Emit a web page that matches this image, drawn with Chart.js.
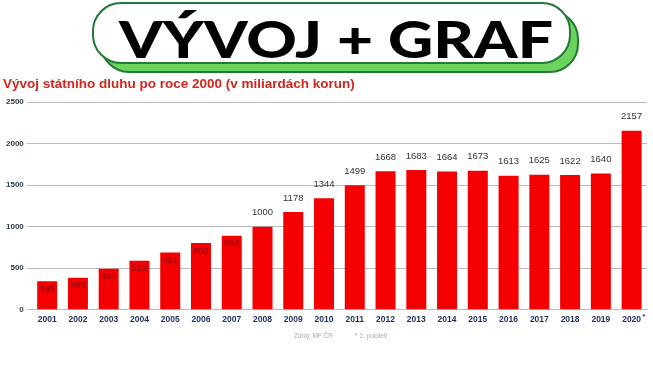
<!DOCTYPE html>
<html>
<head>
<meta charset="utf-8">
<script src="https://cdn.jsdelivr.net/npm/chart.js@4/dist/chart.umd.min.js"></script>
<style>
  html, body { margin: 0; padding: 0; background: #fff; }
  #wrap { width: 653px; height: 367px; }
</style>
</head>
<body>
<div id="wrap"><canvas id="debtChart"></canvas></div>
<script>
/* ==========================
   DATA
========================== */
const years = ["2001","2002","2003","2004","2005","2006","2007","2008","2009","2010",
               "2011","2012","2013","2014","2015","2016","2017","2018","2019","2020"];
const debt = [345, 386, 493, 592, 691, 803, 892, 1000, 1178, 1344,
              1499, 1668, 1683, 1664, 1673, 1613, 1625, 1622, 1640, 2157];
const yTicks = [0, 500, 1000, 1500, 2000, 2500];

const bannerText = "VÝVOJ + GRAF";
const chartTitle = "Vývoj státního dluhu po roce 2000 (v miliardách korun)";
const sourceNote = "Zdroj: MF ČR";
const footNote = "* 1. pololetí";

/* ==========================
   HELPERS
========================== */
function roundRect(ctx, x, y, w, h, r) {
  ctx.beginPath();
  ctx.moveTo(x + r, y);
  ctx.lineTo(x + w - r, y);
  ctx.arc(x + w - r, y + r, r, -Math.PI / 2, 0);
  ctx.lineTo(x + w, y + h - r);
  ctx.arc(x + w - r, y + h - r, r, 0, Math.PI / 2);
  ctx.lineTo(x + r, y + h);
  ctx.arc(x + r, y + h - r, r, Math.PI / 2, Math.PI);
  ctx.lineTo(x, y + r);
  ctx.arc(x + r, y + r, r, Math.PI, Math.PI * 1.5);
  ctx.closePath();
}

/* ==========================
   BANNER + BACKGROUND
========================== */
const bannerPlugin = {
  id: "banner",
  beforeDraw(chart) {
    const ctx = chart.ctx;
    ctx.save();
    ctx.fillStyle = "#fff";
    ctx.fillRect(0, 0, chart.width, chart.height);

    // green shadow box
    roundRect(ctx, 101, 11, 477, 61, 28);
    ctx.fillStyle = "#6cd35c";
    ctx.fill();
    ctx.lineWidth = 2;
    ctx.strokeStyle = "#237a36";
    ctx.stroke();

    // front box
    roundRect(ctx, 93, 3, 477, 60, 28);
    ctx.fillStyle = "#fff";
    ctx.fill();
    ctx.strokeStyle = "#237a36";
    ctx.stroke();

    // big text, squeezed to the banner width
    ctx.font = "900 52px Lato, 'DejaVu Sans', sans-serif";
    ctx.fillStyle = "#000";
    ctx.textBaseline = "alphabetic";
    ctx.textAlign = "left";
    const w = ctx.measureText(bannerText).width;
    const target = 434;
    ctx.translate(119, 58);
    ctx.scale(target / w, 1);
    ctx.fillText(bannerText, 0, 0);
    ctx.restore();
  }
};

/* ==========================
   VALUE LABELS + NOTES
========================== */
const labelsPlugin = {
  id: "valueLabels",
  afterDatasetsDraw(chart) {
    const ctx = chart.ctx;
    const meta = chart.getDatasetMeta(0);
    ctx.save();
    ctx.font = "9.5px 'Liberation Sans', Arial, sans-serif";
    ctx.textAlign = "center";
    ctx.textBaseline = "middle";
    meta.data.forEach((bar, i) => {
      const v = debt[i];
      if (v < 1000) {
        ctx.fillStyle = "#850808";
        ctx.fillText(String(v), bar.x, bar.y + 8);
      } else {
        ctx.fillStyle = "#333";
        ctx.fillText(String(v), bar.x, bar.y - 14);
      }
    });

    // asterisk next to the last year
    const xs = chart.scales.x;
    const last = xs.getPixelForTick(years.length - 1);
    ctx.fillStyle = "#1b2d5a";
    ctx.font = "bold 7px 'Liberation Sans', Arial, sans-serif";
    ctx.textAlign = "left";
    ctx.fillText("*", last + 11, chart.chartArea.bottom + 7);

    // source note
    ctx.fillStyle = "#a8a8a8";
    ctx.font = "6.5px 'Liberation Sans', Arial, sans-serif";
    ctx.fillText(sourceNote, 294, chart.chartArea.bottom + 26);
    ctx.fillText(footNote, 355, chart.chartArea.bottom + 26);
    ctx.restore();
  }
};

/* ==========================
   CHART
========================== */
new Chart(document.getElementById("debtChart"), {
  type: "bar",
  data: {
    labels: years,
    datasets: [{
      data: debt,
      backgroundColor: "#f50000",
      borderWidth: 0,
      categoryPercentage: 1,
      barPercentage: 0.65
    }]
  },
  options: {
    responsive: true,
    maintainAspectRatio: false,
    animation: false,
    layout: { padding: { top: 76, left: 3, right: 6, bottom: 37 } },
    plugins: {
      legend: { display: false },
      tooltip: { enabled: false },
      title: {
        display: true,
        text: chartTitle,
        align: "start",
        color: "#d1261c",
        font: { family: "'Liberation Sans', Arial, sans-serif", size: 13.5, weight: "bold", lineHeight: 1.2 },
        padding: { top: 0, bottom: 10 }
      }
    },
    scales: {
      x: {
        grid: { display: false, drawTicks: false },
        border: { display: true, color: "#b8bcc0" },
        ticks: {
          color: "#1b2d5a",
          padding: 5,
          maxRotation: 0,
          font: { family: "'Liberation Sans', Arial, sans-serif", size: 8.5, weight: "bold" }
        }
      },
      y: {
        min: 0,
        max: 2500,
        afterBuildTicks: axis => { axis.ticks = yTicks.map(v => ({ value: v })); },
        grid: { color: "#b8bcc0", lineWidth: 1, tickLength: 5 },
        border: { display: false },
        ticks: {
          color: "#2b3b4b",
          padding: 3,
          callback: v => String(v),
          font: { family: "'Liberation Sans', Arial, sans-serif", size: 8, weight: "bold" }
        }
      }
    }
  },
  plugins: [bannerPlugin, labelsPlugin]
});
</script>
</body>
</html>
